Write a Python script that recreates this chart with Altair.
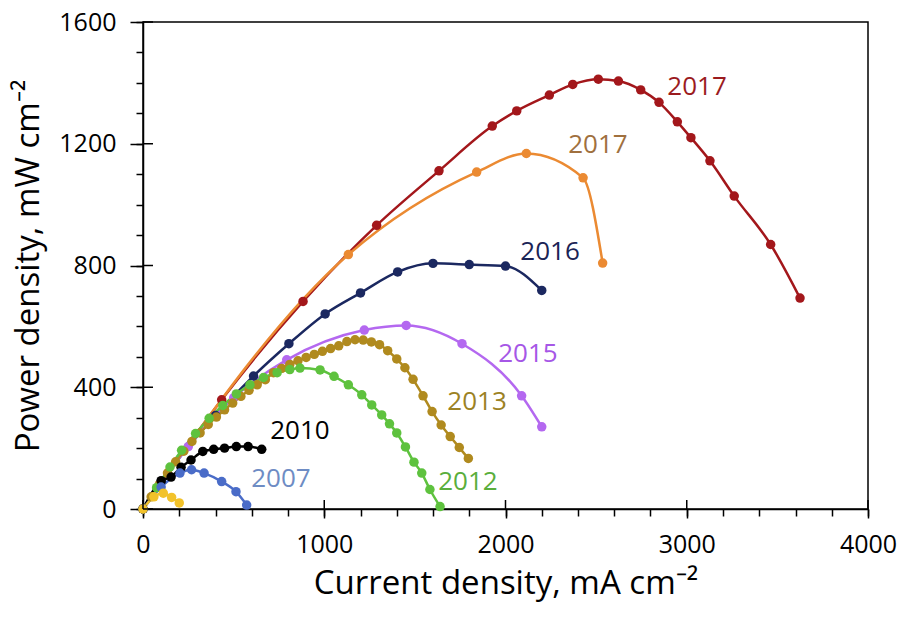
import altair as alt
import pandas as pd

# ---- power-density curves (current density in mA cm-2, power density in mW cm-2) ----
series_ids = ["2017-a", "2017-b", "2016", "2015", "2013", "2012", "2010", "2007", "early"]
line_colors = ["#a3171b", "#eb8a32", "#1b2860", "#b468f0", "#b08a1e", "#5ec23e", "#000000", "#4a6cc8", "#f2c22a"]

x_2017a = [0, 434, 883, 1289, 1633, 1927, 2062, 2242, 2371, 2512, 2623, 2746, 2847, 2948, 3023, 3128, 3262, 3463, 3625]
y_2017a = [0, 359, 682, 932, 1111, 1258, 1308, 1360, 1395, 1412, 1406, 1377, 1336, 1272, 1220, 1144, 1028, 869, 693]

x_2017b = [0, 1133, 1841, 2115, 2428, 2536]
y_2017b = [0, 836, 1107, 1168, 1088, 808]

x_2016 = [0, 100, 400, 610, 805, 1005, 1200, 1405, 1600, 1800, 2000, 2200]
y_2016 = [0, 90, 307, 437, 543, 641, 710, 779, 807, 803, 798, 718]

x_2015 = [0, 250, 500, 793, 1221, 1452, 1760, 2089, 2200]
y_2015 = [0, 205, 365, 490, 588, 603, 543, 372, 270]

x_2013 = [0, 45, 90, 135, 180, 225, 270, 315, 360, 405, 450, 495, 540, 585, 630, 675, 720, 765,
          810, 855, 900, 945, 990, 1035, 1080, 1125, 1170, 1215, 1260, 1305, 1350, 1400, 1445,
          1490, 1545, 1595, 1645, 1695, 1745, 1795]
y_2013 = [0, 40, 80, 118, 155, 190, 222, 250, 278, 302, 326, 348, 370, 390, 408, 425, 448, 462,
          475, 487, 498, 508, 518, 527, 536, 550, 556, 555, 549, 540, 520, 493, 464,
          426, 372, 320, 276, 238, 202, 166]

x_2012 = [0, 75, 149, 213, 290, 365, 440, 515, 590, 665, 740, 810, 866, 977, 1054, 1133, 1207,
          1262, 1317, 1360, 1400, 1448, 1495, 1538, 1583, 1639]
y_2012 = [0, 70, 138, 193, 248, 298, 340, 378, 408, 432, 448, 458, 463, 457, 436, 408, 375,
          342, 309, 280, 250, 204, 154, 118, 64, 8]

x_2010 = [0, 100, 155, 210, 265, 330, 390, 450, 515, 580, 655]
y_2010 = [0, 93, 105, 137, 161, 189, 196, 200, 205, 205, 196]

x_2007 = [0, 100, 204, 268, 337, 434, 513, 572]
y_2007 = [0, 72, 118, 129, 118, 90, 57, 13]

x_early = [0, 60, 112, 158, 200]
y_early = [0, 40, 52, 38, 20]

# ---- year labels placed next to each curve ----
label_text = ["2017", "2017", "2016", "2015", "2013", "2012", "2010", "2007"]
label_x = [3057, 2510, 2246, 2124, 1843, 1793, 866, 761]
label_y = [1388, 1196, 843, 510, 350, 88, 257, 98]
label_colors = ["#9b1b1e", "#a0703e", "#1b2455", "#a657e6", "#9c8224", "#5aae3c", "#000000", "#6e8cc4"]

# ---- axis tick values ----
major_x = [0, 1000, 2000, 3000, 4000]
minor_x = list(range(0, 4001, 200))
major_y = [0, 400, 800, 1200, 1600]
minor_y = list(range(0, 1601, 100))

FONT = "Open Sans"
W, H = 725, 487

xs_all = [x_2017a, x_2017b, x_2016, x_2015, x_2013, x_2012, x_2010, x_2007, x_early]
ys_all = [y_2017a, y_2017b, y_2016, y_2015, y_2013, y_2012, y_2010, y_2007, y_early]
rows = []
for sid, xs, ys in zip(series_ids, xs_all, ys_all):
    for xv, yv in zip(xs, ys):
        rows.append({"series": sid, "current": xv, "power": yv})
curves = pd.DataFrame(rows)

labels = pd.DataFrame({"text": label_text, "current": label_x, "power": label_y, "tcolor": label_colors})

x_scale = alt.Scale(domain=[0, 4000], nice=False, zero=False)
y_scale = alt.Scale(domain=[0, 1600], nice=False)
color = alt.Color("series:N", scale=alt.Scale(domain=series_ids, range=line_colors), legend=None)

# main axes: domain, labels, titles and outward major ticks
lines = alt.Chart(curves).mark_line(strokeWidth=2.5, interpolate="monotone").encode(
    x=alt.X("current:Q", scale=x_scale,
            axis=alt.Axis(values=major_x, tickSize=9, labelPadding=14, format="d", labelFlush=False,
                          title="Current density, mA cm⁻²", titlePadding=10)),
    y=alt.Y("power:Q", scale=y_scale,
            axis=alt.Axis(values=major_y, tickSize=13, labelPadding=14, format="d", labelFlush=False,
                          title="Power density, mW cm⁻²", titlePadding=13)),
    color=color,
    detail="series:N",
)

# markers carry the outward minor ticks
points = alt.Chart(curves).mark_circle(size=90, opacity=1).encode(
    x=alt.X("current:Q", scale=x_scale,
            axis=alt.Axis(values=minor_x, tickSize=7, labels=False, domain=False, title=None, orient="bottom")),
    y=alt.Y("power:Q", scale=y_scale,
            axis=alt.Axis(values=minor_y, tickSize=7, labels=False, domain=False, title=None, orient="left")),
    color=color,
)

texts = alt.Chart(labels).mark_text(font=FONT, fontSize=26, align="center", baseline="middle").encode(
    x=alt.X("current:Q", scale=x_scale, axis=None),
    y=alt.Y("power:Q", scale=y_scale, axis=None),
    text="text:N",
    color=alt.Color("tcolor:N", scale=None),
)

# inward halves of the major ticks (ticks cross the axis lines)
inner_x = alt.Chart(pd.DataFrame({"tick": major_x})).mark_rule(color="#000000", strokeWidth=1.5).encode(
    x=alt.X("tick:Q", scale=x_scale, axis=None),
    y=alt.value(H),
    y2=alt.value(H - 9),
)
inner_y = alt.Chart(pd.DataFrame({"tick": major_y})).mark_rule(color="#000000", strokeWidth=1.5).encode(
    y=alt.Y("tick:Q", scale=y_scale, axis=None),
    x=alt.value(0),
    x2=alt.value(10),
)

chart = alt.layer(lines, points, texts, inner_x, inner_y).resolve_axis(
    x="independent", y="independent"
).properties(
    width=W,
    height=H,
    padding={"left": 143, "top": 22, "right": 31, "bottom": 110},
    autosize=alt.AutoSizeParams(type="none"),
    background="white",
).configure_view(
    stroke="#000000", strokeWidth=1.5
).configure_axis(
    domainColor="#000000", domainWidth=1.5, tickColor="#000000", tickWidth=1.5,
    labelFont=FONT, labelFontSize=25, labelColor="#000000",
    titleFont=FONT, titleFontSize=33, titleColor="#000000", titleFontWeight="normal",
    grid=False,
)

chart.save("out.html", embed_options={"renderer": "svg", "actions": False})
